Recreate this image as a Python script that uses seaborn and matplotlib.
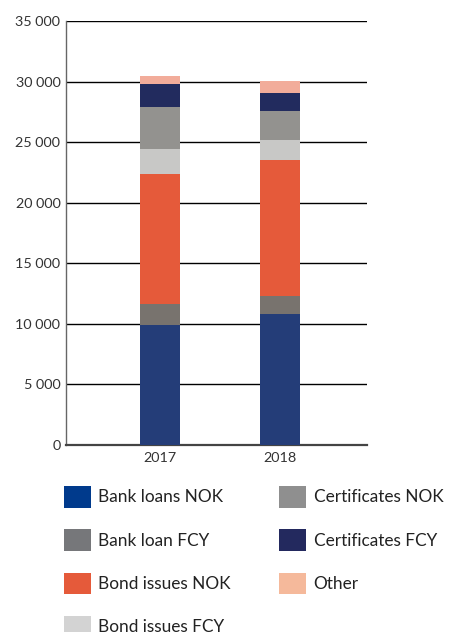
import matplotlib
matplotlib.use("Agg")
import matplotlib.pyplot as plt
from matplotlib.patches import Patch
import seaborn as sns
import numpy as np

# categories and values (NOK million)
years = ["2017", "2018"]
series = ["Bank loans NOK", "Bank loan FCY", "Bond issues NOK", "Bond issues FCY",
          "Certificates NOK", "Certificates FCY", "Other"]
bank_loans_nok = [9940, 10850]
bank_loan_fcy = [1735, 1490]
bond_issues_nok = [10680, 11180]
bond_issues_fcy = [2070, 1655]
certificates_nok = [3480, 2400]
certificates_fcy = [1900, 1490]
other = [660, 990]

bar_colors = ["#243D78", "#78736E", "#E55A3A", "#C8C8C6", "#93928F", "#222B5E", "#F2AC9A"]
legend_colors = ["#003A8C", "#76777A", "#E55A3A", "#D3D3D3", "#8F8F8F", "#23295E", "#F5B99B"]

values = np.array([bank_loans_nok, bank_loan_fcy, bond_issues_nok, bond_issues_fcy,
                   certificates_nok, certificates_fcy, other])
cum = values.cumsum(axis=0)

sns.set_style("white")
plt.rcParams['font.family'] = ['Lato', 'DejaVu Sans']

fig = plt.figure(figsize=(4.49, 6.32), dpi=100)
ax = fig.add_axes([66 / 449, 187 / 632, 301 / 449, 424 / 632])

# stacked bars: draw cumulative totals from the top down
for i in range(len(series) - 1, -1, -1):
    sns.barplot(x=years, y=cum[i], color=bar_colors[i], width=1 / 3,
                saturation=1, linewidth=0, ax=ax, zorder=3)

ax.set_xlim(-0.783, 1.725)
ax.set_ylim(0, 35000)
ax.set_yticks(np.arange(0, 35001, 5000))
ax.set_yticklabels([f"{v:,}".replace(",", " ") for v in range(0, 35001, 5000)])
ax.yaxis.grid(True, color="black", lw=1)
ax.set_axisbelow(True)
ax.set_xlabel("")
ax.set_ylabel("")

for s in ["top", "right"]:
    ax.spines[s].set_visible(False)
ax.spines["left"].set_color("#666666")
ax.spines["left"].set_linewidth(1)
ax.spines["bottom"].set_color("#444444")
ax.spines["bottom"].set_linewidth(1.6)

ax.tick_params(axis="both", length=0, labelsize=10.4, labelcolor="#333333", pad=4)
ax.tick_params(axis="x", pad=5)
ax.set_xticks([0.475, 1.725], minor=True)
ax.tick_params(axis="x", which="minor", direction="in", length=7, width=1, color="#444444")

# legend below the chart; the last row is cut by the bottom edge as in the reference
handles = [Patch(facecolor=c, edgecolor="none") for c in legend_colors]
fig.legend(handles, series, loc="upper left", bbox_to_anchor=(64 / 449, 1 - 486 / 632),
           ncol=2, frameon=False, fontsize=12.4, handlelength=1.55, handleheight=1.55,
           handletextpad=0.45, labelspacing=1.26, columnspacing=2.8,
           borderpad=0, borderaxespad=0, labelcolor="#222222")

fig.savefig("out.png", dpi=100)
